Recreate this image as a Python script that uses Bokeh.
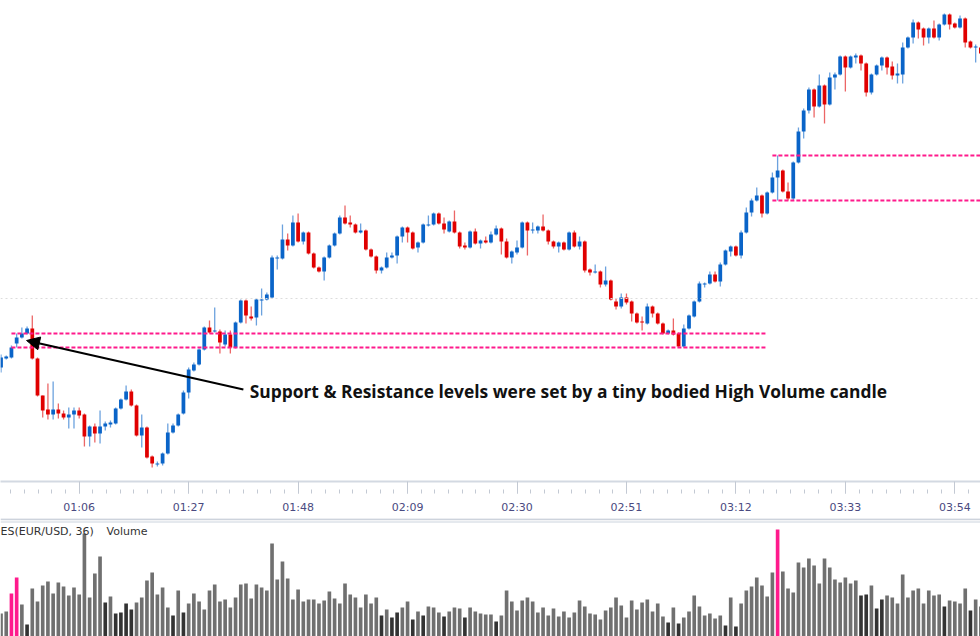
from bokeh.plotting import figure
from bokeh.layouts import column
from bokeh.models import ColumnDataSource, FixedTicker, Range1d, Span, Arrow, NormalHead, Label
from bokeh.embed import file_html
from bokeh.resources import INLINE

# ---------------- data (EUR/USD 1-minute candles, price in points) ----------------
start_minute = 51  # first candle at 00:51, one candle per minute

opens = [133, 142, 143, 157, 163, 167, 172, 142, 105, 91, 86, 91, 87, 83, 86, 90, 86, 64, 74, 67,
         74, 76, 77, 92, 101, 109, 95, 65, 73, 44, 36, 37, 47, 68, 75, 87, 108, 130, 136, 151,
         173, 169, 169, 156, 166, 153, 178, 200, 184, 183, 200, 201, 203, 242, 242, 261, 255, 278, 259, 268,
         247, 233, 229, 243, 255, 267, 283, 278, 276, 268, 270, 251, 244, 230, 233, 243, 245, 264, 273, 268,
         253, 258, 275, 276, 287, 277, 269, 279, 268, 255, 253, 269, 257, 260, 258, 266, 272, 259, 243, 248,
         253, 278, 270, 270, 274, 270, 259, 254, 258, 251, 268, 254, 259, 231, 228, 229, 216, 220, 199, 194,
         203, 199, 187, 179, 177, 194, 187, 177, 167, 170, 167, 154, 172, 184, 199, 216, 217, 226, 219, 236,
         249, 254, 245, 268, 288, 300, 305, 287, 308, 323, 330, 309, 302, 338, 369, 390, 411, 394, 415, 396,
         423, 426, 444, 433, 443, 445, 437, 408, 426, 435, 443, 434, 425, 426, 453, 463, 478, 472, 463, 472,
         463, 476, 486, 477, 473, 482, 459, 453, 453]
highs = [146, 145, 155, 167, 173, 174, 185, 143, 105, 117, 119, 97, 90, 93, 93, 93, 87, 75, 77, 90,
         79, 80, 93, 102, 115, 111, 96, 86, 74, 45, 39, 48, 77, 77, 87, 110, 133, 138, 152, 174,
         180, 193, 171, 170, 170, 179, 201, 201, 194, 202, 212, 208, 245, 245, 276, 267, 285, 287, 269, 269,
         248, 234, 244, 256, 268, 285, 295, 285, 277, 277, 271, 252, 245, 234, 248, 248, 265, 274, 274, 269,
         259, 277, 285, 288, 288, 283, 280, 290, 269, 258, 270, 272, 261, 264, 269, 275, 273, 262, 250, 260,
         279, 279, 278, 275, 286, 271, 260, 259, 259, 269, 270, 264, 260, 232, 236, 230, 234, 221, 202, 207,
         207, 200, 188, 184, 197, 195, 188, 178, 171, 182, 168, 176, 186, 200, 219, 218, 229, 229, 238, 251,
         255, 255, 270, 293, 302, 313, 306, 309, 328, 345, 331, 318, 339, 373, 392, 413, 412, 426, 416, 428,
         428, 445, 445, 445, 447, 446, 438, 427, 436, 444, 444, 439, 437, 458, 464, 481, 479, 473, 473, 480,
         477, 487, 487, 478, 485, 483, 460, 456, 454]
lows = [128, 141, 142, 153, 162, 166, 141, 104, 83, 81, 81, 82, 81, 72, 72, 82, 54, 54, 58, 57,
        70, 73, 76, 91, 100, 94, 64, 53, 42, 33, 34, 35, 46, 67, 74, 86, 102, 129, 135, 150,
        167, 168, 147, 154, 147, 152, 177, 177, 180, 175, 185, 200, 202, 231, 241, 250, 254, 258, 256, 246,
        232, 228, 220, 242, 254, 266, 276, 273, 267, 267, 250, 243, 227, 227, 232, 242, 237, 258, 258, 251,
        248, 257, 274, 275, 276, 267, 268, 267, 252, 251, 252, 256, 252, 257, 257, 265, 246, 242, 237, 246,
        252, 245, 267, 267, 269, 256, 252, 248, 250, 250, 253, 251, 228, 225, 227, 213, 214, 200, 191, 192,
        196, 179, 177, 170, 176, 183, 176, 166, 166, 165, 153, 153, 171, 183, 198, 213, 216, 218, 214, 235,
        244, 244, 242, 267, 284, 299, 283, 286, 307, 300, 308, 300, 300, 337, 362, 387, 383, 393, 377, 395,
        411, 425, 409, 432, 437, 430, 404, 406, 425, 430, 426, 421, 417, 417, 452, 457, 462, 455, 457, 462,
        460, 475, 471, 472, 472, 453, 452, 438, 445]
closes = [143, 144, 153, 163, 167, 172, 142, 105, 90, 86, 91, 87, 83, 86, 90, 85, 64, 74, 67, 74,
          77, 78, 92, 101, 109, 95, 65, 73, 43, 37, 37, 47, 68, 75, 86, 108, 131, 136, 151, 173,
          168, 170, 158, 166, 153, 178, 200, 185, 182, 201, 201, 206, 243, 243, 261, 255, 278, 259, 268, 247,
          233, 229, 243, 255, 267, 283, 277, 276, 268, 270, 251, 244, 230, 233, 243, 245, 264, 273, 268, 252,
          258, 276, 276, 287, 277, 271, 279, 268, 254, 253, 269, 257, 260, 258, 266, 272, 259, 243, 249, 253,
          278, 270, 271, 274, 270, 259, 254, 258, 251, 268, 254, 259, 230, 228, 229, 216, 220, 201, 194, 203,
          198, 187, 178, 178, 194, 187, 177, 167, 170, 166, 154, 172, 185, 199, 217, 217, 226, 219, 236, 250,
          254, 245, 268, 288, 300, 305, 287, 308, 323, 330, 309, 302, 338, 369, 390, 411, 394, 415, 396, 423,
          426, 444, 433, 444, 445, 437, 408, 426, 435, 443, 433, 425, 427, 453, 463, 478, 471, 463, 472, 463,
          476, 486, 476, 473, 482, 458, 453, 454, 447]

volumes = [23, 25, 43, 59, 32, 12, 48, 35, 51, 55, 43, 54, 50, 41, 49, 42, 103, 39, 63, 80,
           34, 40, 23, 24, 33, 27, 34, 39, 56, 64, 42, 49, 29, 21, 46, 24, 33, 43, 35, 27,
           46, 52, 35, 37, 29, 39, 52, 53, 38, 52, 49, 46, 93, 57, 75, 58, 37, 47, 35, 37,
           37, 33, 36, 45, 38, 33, 53, 42, 39, 29, 42, 33, 39, 21, 27, 19, 24, 29, 35, 17,
           25, 21, 30, 29, 24, 20, 25, 29, 28, 19, 29, 25, 23, 22, 22, 15, 21, 46, 35, 26,
           36, 39, 35, 24, 29, 21, 28, 20, 25, 19, 24, 36, 30, 23, 22, 17, 26, 29, 39, 31,
           19, 36, 27, 34, 37, 25, 33, 20, 14, 29, 13, 19, 25, 41, 30, 21, 23, 18, 21, 11,
           39, 10, 33, 46, 50, 59, 51, 40, 64, 107, 65, 48, 44, 74, 69, 78, 71, 53, 78, 69,
           57, 54, 59, 53, 56, 41, 42, 51, 28, 37, 41, 39, 33, 62, 39, 46, 48, 33, 46, 41,
           42, 30, 36, 35, 33, 48, 26, 37, 30]
dark_volume_idx = [5, 20, 22, 23, 24, 25, 33, 35, 73, 75, 76, 79, 81, 85, 89, 95,
                   128, 130, 139, 141, 165, 166, 168, 169, 181, 186]
high_volume_idx = [2, 3, 149]
level_candles = [3, 149]          # tiny bodied high-volume candles that set the levels
level_end_candles = [147, 200]    # where each pair of dashed levels stops

tick_minutes = [66, 87, 108, 129, 150, 171, 192, 213, 234]
tick_labels = ["01:06", "01:27", "01:48", "02:09", "02:30", "02:51", "03:12", "03:33", "03:54"]
grid_level = 202
annotation_text = "Support & Resistance levels were set by a tiny bodied High Volume candle"
volume_title = "ES(EUR/USD, 36)"
volume_name = "Volume"

# ---------------- styling / layout ----------------
W, H_TOP, H_BOT = 980, 518, 118
PX_PER_MIN = 5.212
x0 = start_minute - 0.1
x_range = Range1d(x0, x0 + W / PX_PER_MIN)
UP, DOWN = "#0a64c8", "#e00000"

n = len(opens)
t = [start_minute + i for i in range(n)]
up = [c >= o for o, c in zip(opens, closes)]
src = ColumnDataSource(dict(
    t=t, o=opens, h=highs, l=lows, c=closes,
    top=[max(o, c) for o, c in zip(opens, closes)],
    bot=[min(o, c) for o, c in zip(opens, closes)],
    col=[UP if u else DOWN for u in up],
))

p = figure(width=W, height=H_TOP, x_range=x_range, y_range=Range1d(19, 500),
           output_backend="svg", toolbar_location=None, y_axis_location=None,
           min_border_left=0, min_border_right=0, min_border_top=0, min_border_bottom=37)
p.outline_line_color = None
p.grid.visible = False
p.background_fill_color = "white"
p.border_fill_color = "white"

p.add_layout(Span(location=grid_level, dimension="width", line_color="#dcdcdc",
                  line_width=1, line_dash="2 3"))

p.segment(x0="t", y0="h", x1="t", y1="l", source=src, line_color="col", line_alpha=0.6, line_width=1.3)
p.vbar(x="t", top="top", bottom="bot", width=0.72, source=src, fill_color="col", line_color=None)

# support / resistance levels from the tiny bodied candles
PINK = "#ff1a8c"
for ci, ce in zip(level_candles, level_end_candles):
    xs = start_minute + ci - 1
    xe = start_minute + ce
    for lvl in (highs[ci], lows[ci]):
        p.segment(x0=[xs], y0=[lvl], x1=[xe], y1=[lvl], line_color=PINK, line_width=2, line_dash="4 2")

# arrow + annotation
tip_i, tail_i = 4.9, 46.5
p.add_layout(Arrow(end=NormalHead(size=13, fill_color="black", line_color="black"),
                   x_start=start_minute + tail_i, y_start=111, x_end=start_minute + tip_i, y_end=160,
                   line_color="black", line_width=2))
p.add_layout(Label(x=start_minute + 47.7, y=110, text=annotation_text, text_font="Open Sans",
                   text_font_style="bold", text_font_size="17.4px", text_baseline="middle",
                   text_color="#111111"))

minor = []
step = 21 / 8
m = tick_minutes[0] - 6 * step
while m < x0 + W / PX_PER_MIN:
    minor.append(m)
    m += step
p.xaxis.ticker = FixedTicker(ticks=tick_minutes, minor_ticks=minor)
p.xaxis.major_label_overrides = {tk: lb for tk, lb in zip(tick_minutes, tick_labels)}
p.xaxis.axis_line_color = "#d3d9e2"
p.xaxis.axis_line_width = 2
p.xaxis.major_tick_line_color = "#c3c9d3"
p.xaxis.minor_tick_line_color = "#c3c9d3"
p.xaxis.major_tick_in = 0
p.xaxis.major_tick_out = 12
p.xaxis.minor_tick_in = -8
p.xaxis.minor_tick_out = 12
p.xaxis.major_label_standoff = 7
p.xaxis.major_label_text_font = "DejaVu Sans"
p.xaxis.major_label_text_font_size = "11px"
p.xaxis.major_label_text_color = "#4a4a80"

# ---------------- volume panel ----------------
vcol = []
for i in range(n):
    if i in high_volume_idx:
        vcol.append(PINK)
    elif i in dark_volume_idx:
        vcol.append("#333333")
    else:
        vcol.append("#707070")
vsrc = ColumnDataSource(dict(t=t, v=volumes, col=vcol))

q = figure(width=W, height=H_BOT, x_range=x_range, y_range=Range1d(0, 118),
           output_backend="svg", toolbar_location=None, x_axis_location=None, y_axis_location=None,
           min_border_left=0, min_border_right=0, min_border_top=0, min_border_bottom=0)
q.outline_line_color = None
q.grid.visible = False
q.vbar(x="t", top="v", bottom=0, width=0.7, source=vsrc, fill_color="col", line_color=None)
q.add_layout(Span(location=117.2, dimension="width", line_color="#cdd3dc", line_width=2))
q.add_layout(Span(location=114.6, dimension="width", line_color="#dde2e8", line_width=1.5))
q.add_layout(Label(x=x0, y=105.5, text=volume_title, text_font="DejaVu Sans", text_font_size="11px",
                   text_baseline="middle", text_color="#333333"))
q.add_layout(Label(x=x0 + 106 / PX_PER_MIN, y=105.5, text=volume_name, text_font="DejaVu Sans",
                   text_font_size="11px", text_baseline="middle", text_color="#333333"))

layout = column(p, q, spacing=0)
open("out.html", "w").write(file_html(layout, INLINE))
